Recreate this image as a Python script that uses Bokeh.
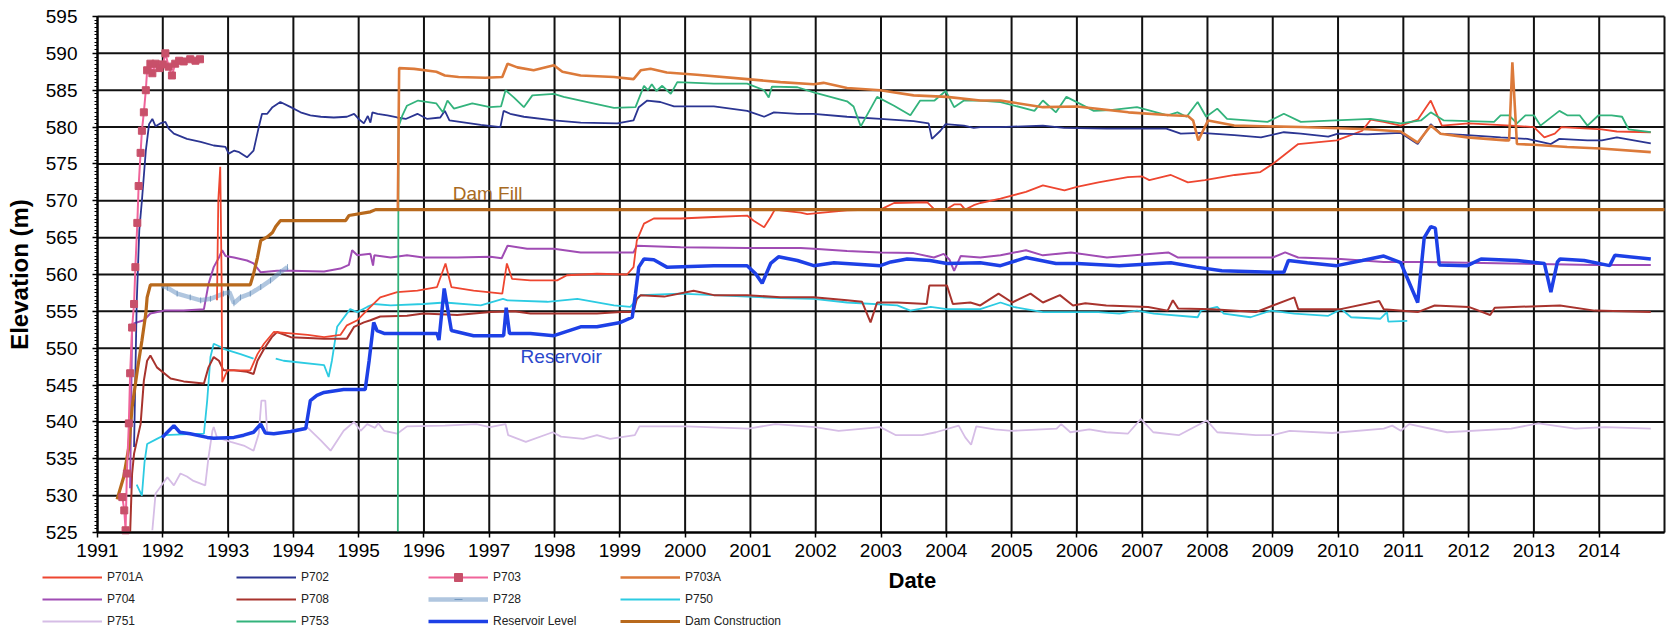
import numpy as np
from bokeh.plotting import figure
from bokeh.models import Range1d, FixedTicker, Legend, LegendItem, Label, LinearAxis
from bokeh.embed import file_html
from bokeh.resources import INLINE

# ---------------- data (decimal year, elevation m) ----------------
YEAR_TICKS = list(range(1991, 2015))
ELEV_TICKS = list(range(525, 600, 5))
X0, X1 = 1991, 2015
Y0, Y1 = 525, 595

DAM_YR = [1991.30, 1991.40, 1991.48, 1991.53, 1991.61, 1991.68, 1991.74, 1991.76, 1991.81,
          1993.34, 1993.39, 1993.45, 1993.50, 1993.60, 1993.68, 1993.73, 1993.80, 1994.80,
          1994.85, 1995.18, 1995.26, 2015.0]
DAM_EL = [529.5, 532.5, 536.6, 542.0, 547.0, 551.0, 554.7, 556.9, 558.6,
          558.6, 560.1, 562.3, 564.6, 565.1, 565.7, 566.5, 567.3, 567.3,
          568.0, 568.5, 568.8, 568.8]

P703_YR = [1991.38, 1991.41, 1991.43, 1991.45, 1991.48, 1991.50, 1991.53, 1991.56, 1991.58,
           1991.61, 1991.63, 1991.66, 1991.68, 1991.71, 1991.74, 1991.76, 1991.81, 1991.84,
           1991.89, 1991.95, 1992.00, 1992.04, 1992.09, 1992.14, 1992.19, 1992.25, 1992.32,
           1992.42, 1992.50, 1992.57]
P703_EL = [529.8, 528.0, 525.3, 533.0, 539.8, 546.6, 552.8, 556.0, 561.0,
           567.0, 572.0, 576.5, 579.5, 582.0, 585.0, 587.7, 588.6, 587.3,
           588.6, 588.0, 588.5, 590.0, 588.2, 587.0, 588.6, 589.0, 588.9,
           589.2, 589.0, 589.2]

P702_YR = [1991.56, 1991.60, 1991.64, 1991.68, 1991.74, 1991.79, 1991.84, 1991.89, 1991.96,
           1992.04, 1992.09, 1992.17, 1992.37, 1992.58, 1992.78, 1992.96, 1993.01, 1993.09,
           1993.17, 1993.29, 1993.39, 1993.47, 1993.52, 1993.60, 1993.68, 1993.80, 1993.96,
           1994.11, 1994.26, 1994.42, 1994.62, 1994.82, 1994.93, 1995.00, 1995.08, 1995.14,
           1995.18, 1995.21, 1995.29, 1995.44, 1995.59, 1995.72, 1995.90, 1996.05, 1996.25,
           1996.32, 1996.39, 1996.55, 1996.87, 1997.17, 1997.22, 1997.32, 1997.53, 1997.99,
           1998.40, 1998.96, 1999.21, 1999.29, 1999.42, 1999.62, 1999.83, 2000.44, 2000.95,
           2001.21, 2001.36, 2001.72, 2001.97, 2002.48, 2002.99, 2003.50, 2003.73, 2003.78,
           2003.91, 2003.99, 2004.27, 2004.42, 2004.52, 2004.83, 2005.48, 2005.80, 2006.45,
           2007.37, 2007.59, 2007.90, 2008.41, 2008.82, 2009.17, 2009.43, 2009.85, 2010.00,
           2010.45, 2010.96, 2011.22, 2011.42, 2011.57, 2011.98, 2012.49, 2012.90, 2013.26,
           2013.39, 2013.82, 2014.04, 2014.27, 2014.79]
P702_EL = [536.6, 556.0, 566.0, 570.0, 576.8, 580.4, 581.1, 580.1, 580.5,
           580.7, 579.8, 579.1, 578.4, 578.0, 577.5, 577.3, 576.4, 576.8,
           576.6, 575.9, 576.8, 580.0, 581.8, 581.8, 582.7, 583.4, 582.7,
           582.0, 581.6, 581.4, 581.3, 581.4, 581.8, 581.1, 580.5, 581.5,
           580.6, 582.0, 581.8, 581.6, 581.3, 581.1, 581.8, 581.1, 581.3,
           582.2, 580.9, 580.7, 580.3, 580.0, 582.2, 581.8, 581.4, 580.9,
           580.6, 580.5, 580.9, 582.7, 583.6, 583.4, 582.8, 582.8, 582.2,
           581.4, 582.0, 581.8, 581.8, 581.4, 581.1, 580.8, 580.5, 578.4,
           579.5, 580.4, 580.2, 579.9, 580.0, 580.0, 580.2, 579.9, 579.8,
           579.8, 579.1, 579.2, 578.9, 578.6, 579.3, 579.1, 578.7, 579.1,
           579.0, 579.2, 577.7, 580.4, 579.1, 578.9, 578.6, 578.4, 577.7,
           578.4, 578.2, 578.2, 578.6, 577.8]

P703A_YR = [1995.60, 1995.62, 1995.85, 1996.19, 1996.32, 1996.53, 1996.94, 1997.20, 1997.28,
            1997.43, 1997.68, 1997.99, 1998.12, 1998.40, 1998.91, 1999.21, 1999.32, 1999.47,
            1999.72, 2000.18, 2000.95, 2001.46, 2001.97, 2002.12, 2002.48, 2002.99, 2003.50,
            2004.01, 2004.52, 2004.83, 2005.48, 2006.00, 2006.79, 2007.44, 2007.70, 2007.78,
            2007.86, 2008.01, 2008.41, 2009.43, 2010.45, 2010.96, 2011.22, 2011.42, 2011.57,
            2011.98, 2012.57, 2012.62, 2012.67, 2012.74, 2013.00, 2013.51, 2014.02, 2014.79]
P703A_EL = [569.0, 588.0, 587.9, 587.5, 587.0, 586.8, 586.7, 586.8, 588.6,
            588.1, 587.7, 588.4, 587.5, 587.0, 586.8, 586.5, 587.7, 587.9,
            587.4, 587.1, 586.5, 586.1, 585.8, 586.0, 585.3, 585.0, 584.3,
            584.1, 583.6, 583.6, 582.7, 582.8, 582.0, 581.6, 581.5, 580.9,
            578.2, 580.9, 580.2, 580.0, 579.7, 579.4, 577.9, 580.2, 579.1,
            578.6, 578.2, 578.2, 588.8, 577.7, 577.6, 577.3, 577.1, 576.6]

P701A_YR = [1992.83, 1992.85, 1992.88, 1992.90, 1992.91, 1992.99, 1993.14, 1993.34, 1993.45,
            1993.55, 1993.70, 1993.96, 1994.22, 1994.47, 1994.72, 1994.82, 1994.98, 1995.18,
            1995.33, 1995.59, 1995.90, 1996.20, 1996.33, 1996.42, 1996.76, 1997.20, 1997.27,
            1997.35, 1997.63, 1998.04, 1998.19, 1998.65, 1999.11, 1999.21, 1999.26, 1999.37,
            1999.52, 1999.93, 2000.44, 2000.95, 2001.05, 2001.21, 2001.31, 2001.38, 2001.46,
            2001.77, 2001.87, 2002.23, 2002.48, 2002.99, 2003.20, 2003.71, 2003.81, 2004.01,
            2004.12, 2004.22, 2004.29, 2004.42, 2004.52, 2004.83, 2005.22, 2005.48, 2005.81,
            2006.00, 2006.33, 2006.78, 2007.00, 2007.11, 2007.44, 2007.70, 2007.96, 2008.42,
            2008.81, 2009.00, 2009.39, 2009.98, 2010.37, 2010.50, 2010.70, 2010.96, 2011.22,
            2011.42, 2011.59, 2012.00, 2012.65, 2013.00, 2013.16, 2013.32, 2013.42, 2014.04,
            2014.27, 2014.79]
P701A_EL = [556.5, 570.0, 574.6, 560.0, 545.4, 547.0, 547.0, 547.0, 549.2,
            550.6, 552.2, 552.0, 551.8, 551.5, 551.8, 553.1, 553.8, 555.6,
            556.9, 557.6, 557.8, 558.3, 561.5, 558.3, 557.8, 557.4, 561.5,
            559.4, 559.2, 559.2, 559.9, 560.1, 560.0, 561.0, 564.6, 566.9,
            567.6, 567.6, 567.8, 568.0, 567.3, 566.4, 567.8, 568.9, 568.7,
            568.4, 568.2, 568.5, 568.7, 568.8, 569.7, 569.8, 568.9, 568.9,
            569.5, 569.5, 568.8, 569.4, 569.7, 570.3, 571.2, 572.1, 571.4,
            571.9, 572.5, 573.2, 573.3, 572.8, 573.5, 572.5, 572.8, 573.5,
            573.9, 575.0, 577.7, 578.2, 579.5, 581.0, 580.7, 580.2, 581.0,
            583.6, 580.2, 580.5, 580.2, 580.0, 578.6, 579.1, 580.0, 579.7,
            579.4, 579.3]

P704_YR = [1991.50, 1991.53, 1991.71, 1991.81, 1992.02, 1992.32, 1992.63, 1992.70, 1992.78,
           1992.86, 1992.91, 1992.96, 1993.09, 1993.29, 1993.39, 1993.50, 1993.75, 1993.96,
           1994.47, 1994.72, 1994.85, 1994.90, 1994.98, 1995.18, 1995.22, 1995.24, 1995.49,
           1995.74, 1995.99, 1996.51, 1997.02, 1997.19, 1997.28, 1997.58, 1997.99, 1998.40,
           1998.91, 1999.21, 1999.26, 1999.93, 2000.95, 2001.77, 2001.97, 2002.48, 2002.99,
           2003.50, 2003.81, 2003.96, 2004.05, 2004.12, 2004.22, 2004.52, 2004.83, 2005.22,
           2005.48, 2005.91, 2006.46, 2007.40, 2007.55, 2009.00, 2009.19, 2009.39, 2010.04,
           2010.70, 2011.35, 2012.65, 2013.93, 2014.79]
P704_EL = [531.0, 553.3, 553.8, 554.7, 555.1, 555.1, 555.3, 558.7, 561.0,
           562.3, 563.3, 562.5, 562.3, 561.9, 561.5, 560.3, 560.5, 560.5,
           560.4, 560.8, 561.3, 563.3, 562.6, 562.8, 561.2, 562.6, 562.3,
           562.6, 562.3, 562.3, 562.4, 562.2, 563.9, 563.5, 563.5, 563.0,
           563.0, 563.0, 563.9, 563.7, 563.6, 563.6, 563.5, 563.2, 563.0,
           562.9, 562.3, 562.8, 562.0, 560.5, 562.5, 562.3, 562.6, 563.3,
           562.6, 563.0, 562.3, 563.0, 562.3, 562.3, 563.0, 562.3, 562.1,
           561.7, 561.7, 561.5, 561.3, 561.3]

RES_YR = [1991.99, 1992.07, 1992.17, 1992.26, 1992.42, 1992.68, 1992.78, 1993.09, 1993.24,
          1993.39, 1993.50, 1993.57, 1993.70, 1993.96, 1994.19, 1994.26, 1994.36, 1994.47,
          1994.77, 1995.10, 1995.16, 1995.23, 1995.28, 1995.39, 1995.99, 1996.20, 1996.23,
          1996.31, 1996.42, 1996.76, 1997.22, 1997.26, 1997.31, 1997.63, 1997.99, 1998.40,
          1998.65, 1999.01, 1999.19, 1999.24, 1999.29, 1999.37, 1999.52, 1999.72, 2000.44,
          2000.95, 2001.08, 2001.18, 2001.31, 2001.43, 2001.72, 2001.97, 2002.28, 2002.99,
          2003.15, 2003.40, 2003.75, 2004.01, 2004.52, 2004.83, 2005.22, 2005.68, 2006.00,
          2006.65, 2007.44, 2007.83, 2008.22, 2009.00, 2009.17, 2009.24, 2009.53, 2009.98,
          2010.37, 2010.70, 2010.96, 2011.22, 2011.32, 2011.42, 2011.49, 2011.55, 2011.98,
          2012.19, 2012.74, 2013.16, 2013.26, 2013.36, 2013.40, 2013.77, 2014.16, 2014.24,
          2014.79]
RES_EL = [537.9, 538.6, 539.5, 538.6, 538.4, 537.9, 537.8, 537.9, 538.2,
          538.6, 539.7, 538.5, 538.4, 538.7, 539.1, 542.9, 543.6, 544.0,
          544.4, 544.4, 548.3, 553.5, 552.4, 552.0, 552.0, 552.0, 551.1,
          558.1, 552.4, 551.7, 551.7, 555.5, 552.0, 552.0, 551.7, 552.9,
          552.9, 553.5, 554.2, 557.4, 561.0, 562.1, 562.0, 561.0, 561.2,
          561.2, 560.1, 558.8, 561.5, 562.4, 561.9, 561.2, 561.6, 561.2,
          561.7, 562.1, 561.9, 561.5, 561.6, 561.2, 562.3, 561.5, 561.5,
          561.2, 561.6, 561.0, 560.5, 560.3, 560.3, 561.9, 561.6, 561.2,
          561.9, 562.5, 561.6, 556.2, 565.0, 566.5, 566.3, 561.3, 561.2,
          562.1, 561.9, 561.5, 557.6, 561.7, 562.1, 561.9, 561.2, 562.6,
          562.1]

P708_YR = [1991.50, 1991.53, 1991.56, 1991.66, 1991.71, 1991.76, 1991.81, 1991.91, 1992.12,
           1992.32, 1992.63, 1992.70, 1992.78, 1992.86, 1992.93, 1993.09, 1993.29, 1993.39,
           1993.45, 1993.55, 1993.67, 1993.75, 1993.96, 1994.22, 1994.47, 1994.82, 1994.93,
           1995.08, 1995.18, 1995.33, 1995.74, 1995.99, 1996.51, 1997.02, 1997.38, 1997.63,
           1998.65, 1999.01, 1999.21, 1999.26, 1999.32, 1999.68, 2000.13, 2000.44, 2000.95,
           2001.46, 2001.97, 2002.48, 2002.71, 2002.84, 2002.94, 2003.25, 2003.70, 2003.74,
           2004.01, 2004.10, 2004.37, 2004.52, 2004.80, 2005.01, 2005.29, 2005.48, 2005.74,
           2005.94, 2006.13, 2006.45, 2007.09, 2007.39, 2007.47, 2007.55, 2008.08, 2008.74,
           2009.33, 2009.39, 2010.04, 2010.63, 2010.70, 2011.22, 2011.48, 2012.00, 2012.33,
           2012.40, 2013.40, 2013.93, 2014.79]
P708_EL = [525.0, 533.0, 535.7, 539.7, 545.6, 548.3, 549.0, 547.4, 545.9,
           545.5, 545.2, 547.4, 548.8, 548.3, 547.0, 547.0, 546.8, 546.5,
           548.3, 549.9, 551.5, 552.2, 551.5, 551.4, 551.3, 551.3, 552.9,
           553.5, 553.8, 554.3, 554.4, 554.7, 554.5, 554.9, 555.0, 554.7,
           554.7, 554.9, 554.9, 556.7, 557.2, 557.0, 557.8, 557.2, 557.2,
           556.9, 556.9, 556.5, 556.3, 553.5, 556.2, 556.2, 556.0, 558.5,
           558.5, 556.0, 556.2, 555.8, 557.4, 556.2, 557.4, 556.2, 557.2,
           555.8, 556.1, 555.8, 555.6, 555.1, 556.5, 555.4, 555.3, 554.9,
           556.9, 555.3, 555.3, 556.4, 555.3, 554.9, 555.8, 555.6, 554.5,
           555.5, 555.8, 555.1, 554.9]

P750_YR = [1991.60, 1991.68, 1991.72, 1991.76, 1991.91, 1992.02, 1992.30, 1992.63, 1992.68,
           1992.73, 1992.78, 1992.88, 1992.93, 1993.19, 1993.39, np.nan, 1993.73, 1993.85,
           1994.47, 1994.54, 1994.59, 1994.67, 1994.87, 1994.98, 1995.13, 1995.23, 1995.49,
           1995.99, 1996.32, 1996.87, 1997.21, 1997.28, 1997.89, 1998.35, 1998.91, 1999.16,
           1999.32, 1999.93, 2000.44, 2001.46, 2001.97, 2002.48, 2003.25, 2003.45, 2003.76,
           2004.01, 2004.52, 2004.83, 2005.03, 2005.48, 2005.80, 2006.33, 2006.65, 2006.92,
           2007.18, 2007.85, 2007.90, 2008.15, 2008.25, 2008.66, 2008.97, 2009.33, 2009.85,
           2010.05, 2010.20, 2010.65, 2010.75, 2010.77, 2011.06]
P750_EL = [531.5, 530.0, 534.5, 537.0, 537.7, 538.2, 538.3, 538.4, 542.9,
           548.8, 550.6, 550.2, 549.9, 549.2, 548.6, np.nan, 548.6, 548.3,
           547.7, 546.1, 548.3, 552.9, 555.3, 554.9, 555.6, 556.0, 555.8,
           556.0, 556.2, 555.8, 556.7, 556.5, 556.3, 556.7, 555.8, 555.6,
           557.2, 557.4, 557.2, 556.8, 556.7, 556.2, 555.8, 555.1, 555.6,
           555.3, 555.3, 556.2, 555.6, 554.9, 554.9, 554.9, 554.7, 555.1,
           554.7, 554.2, 555.1, 555.6, 554.7, 554.2, 555.1, 554.7, 554.4,
           555.3, 554.2, 554.0, 554.9, 553.6, 553.7]

P751_YR = [1991.84, 1991.89, 1991.99, 1992.07, 1992.17, 1992.27, 1992.37, 1992.47, 1992.65,
           1992.70, 1992.76, 1992.78, 1992.83, 1993.04, 1993.24, 1993.39, 1993.47, 1993.51,
           1993.57, 1993.60, 1993.75, 1993.96, 1994.21, 1994.42, 1994.57, 1994.77, 1994.93,
           1995.03, 1995.13, 1995.25, 1995.30, 1995.39, 1995.59, 1995.74, 1996.32, 1996.80,
           1997.01, 1997.25, 1997.29, 1997.56, 1997.97, 1998.10, 1998.44, 1998.65, 1998.85,
           1999.23, 1999.30, 2000.01, 2000.97, 2001.38, 2001.99, 2002.35, 2002.99, 2003.23,
           2003.63, 2003.84, 2004.19, 2004.29, 2004.38, 2004.46, 2004.74, 2005.01, 2005.69,
           2005.76, 2005.90, 2006.19, 2006.45, 2006.78, 2006.98, 2007.17, 2007.56, 2007.99,
           2008.15, 2008.74, 2009.00, 2009.26, 2009.91, 2010.70, 2010.83, 2010.96, 2011.09,
           2011.67, 2012.65, 2013.07, 2013.63, 2014.09, 2014.79]
P751_EL = [525.3, 530.3, 531.5, 532.5, 531.4, 533.0, 532.6, 532.0, 531.4,
           535.2, 538.8, 539.3, 537.9, 537.3, 536.8, 536.1, 538.4, 542.9,
           542.9, 538.4, 538.4, 538.8, 539.3, 537.5, 536.1, 538.8, 540.0,
           538.8, 539.7, 539.2, 539.8, 538.8, 538.4, 539.4, 539.5, 539.7,
           539.3, 539.7, 538.2, 537.3, 538.6, 538.0, 537.7, 538.2, 537.7,
           538.2, 539.4, 539.4, 539.1, 539.7, 539.3, 538.8, 539.3, 538.2,
           538.2, 538.6, 539.5, 537.9, 536.9, 539.4, 539.0, 538.8, 539.1,
           539.7, 538.6, 539.0, 538.6, 538.4, 540.4, 538.6, 538.2, 540.2,
           538.6, 538.2, 538.2, 538.8, 538.5, 539.1, 539.5, 538.8, 539.7,
           538.6, 539.1, 539.8, 539.1, 539.3, 539.1]

P753_YR = [1995.60, 1995.61, 1995.67, 1995.74, 1995.91, 1996.19, 1996.29, 1996.36, 1996.46,
           1996.74, 1997.01, 1997.18, 1997.25, 1997.38, 1997.53, 1997.66, 1997.99, 1998.14,
           1998.40, 1998.91, 1999.24, 1999.37, 1999.43, 1999.49, 1999.56, 1999.65, 1999.78,
           1999.88, 2000.44, 2000.95, 2001.21, 2001.28, 2001.33, 2001.72, 2001.97, 2002.48,
           2002.58, 2002.69, 2002.94, 2003.20, 2003.45, 2003.60, 2003.82, 2003.99, 2004.12,
           2004.27, 2004.52, 2004.83, 2005.35, 2005.48, 2005.68, 2005.84, 2006.26, 2006.51,
           2006.92, 2007.39, 2007.54, 2007.68, 2007.85, 2007.98, 2008.15, 2008.30, 2008.92,
           2009.17, 2009.43, 2010.50, 2010.96, 2011.27, 2011.42, 2011.62, 2012.39, 2012.49,
           2012.62, 2012.74, 2012.87, 2013.00, 2013.10, 2013.39, 2013.51, 2013.70, 2013.82,
           2013.99, 2014.19, 2014.35, 2014.45, 2014.79]
P753_EL = [525.0, 580.0, 581.6, 582.9, 583.6, 583.2, 582.0, 583.6, 582.5,
           583.2, 582.7, 582.8, 585.0, 584.0, 582.7, 584.3, 584.5, 584.1,
           583.6, 582.6, 582.7, 585.6, 585.0, 585.8, 584.9, 585.6, 584.5,
           586.1, 585.9, 585.9, 585.0, 584.0, 585.5, 585.4, 584.7, 583.5,
           582.8, 580.1, 584.1, 582.9, 581.6, 583.6, 583.6, 584.9, 582.7,
           583.6, 583.6, 583.4, 582.2, 583.6, 582.0, 584.1, 582.2, 582.3,
           582.7, 581.6, 582.0, 581.4, 583.4, 581.4, 582.5, 581.1, 580.7,
           581.8, 580.7, 581.1, 580.5, 580.9, 582.0, 580.9, 580.7, 581.6,
           581.6, 580.5, 581.6, 581.6, 580.2, 582.2, 581.6, 581.6, 580.2,
           581.6, 581.6, 581.4, 579.7, 579.3]

P728_YR = [1991.99, 1992.07, 1992.22, 1992.42, 1992.58, 1992.73, 1992.93, 1993.02, 1993.09,
           1993.19, 1993.34, 1993.50, 1993.65, 1993.80, 1993.91]
P728_EL = [558.5, 558.2, 557.4, 556.9, 556.5, 556.7, 557.4, 557.6, 556.1,
           556.9, 557.4, 558.3, 559.2, 560.3, 561.0]

FONT = "Liberation Sans"

STYLE = {
    "P701A": ("#ee4630", 1.8, 1.0),
    "P702": ("#2b3592", 1.8, 1.0),
    "P703": ("#f0649a", 2.0, 1.0),
    "P703A": ("#dc7a3a", 2.6, 1.0),
    "P704": ("#a04cb4", 2.0, 1.0),
    "P708": ("#a8332d", 2.0, 1.0),
    "P728": ("#7098c4", 4.5, 0.55),
    "P750": ("#2ccbe2", 1.8, 1.0),
    "P751": ("#d6bde6", 1.8, 1.0),
    "P753": ("#33b37c", 1.8, 1.0),
    "Reservoir Level": ("#1d40e6", 3.5, 1.0),
    "Dam Construction": ("#b8691c", 3.2, 1.0),
}
P703_MARK = "#c8506a"
P728_MARK = "#5a84b0"

# ---------------- canvas geometry ----------------
# The frame fills the whole canvas so the key and the axis title below the
# plotting area can be drawn without being clipped; the plotting area itself
# (1991-2015, 525-595 m) sits at pixels 97..1664 x 16..532.
W, H = 1667, 631
AREA_L, AREA_R, AREA_T, AREA_B = 97, 1664, 16, 532
px_per_yr = (AREA_R - AREA_L) / (X1 - X0)
px_per_m = (AREA_B - AREA_T) / (Y1 - Y0)
x_range = Range1d(X0 - AREA_L / px_per_yr, X1 + (W - AREA_R) / px_per_yr)
y_range = Range1d(Y0 - (H - AREA_B) / px_per_m, Y1 + AREA_T / px_per_m)

p = figure(width=W, height=H, x_range=x_range, y_range=y_range,
           x_axis_type=None, y_axis_type=None,
           output_backend="svg", toolbar_location=None,
           min_border_left=0, min_border_right=0, min_border_top=0, min_border_bottom=0)
p.outline_line_color = None
p.background_fill_color = "white"
p.border_fill_color = "white"

# grid (every year and every 5 m, closing lines at 2015 and 595 m)
grid_years = YEAR_TICKS + [X1]
p.segment(x0=grid_years, y0=[Y0] * len(grid_years), x1=grid_years, y1=[Y1] * len(grid_years),
          line_color="#111111", line_width=2)
p.segment(x0=[X0] * len(ELEV_TICKS), y0=ELEV_TICKS, x1=[X1] * len(ELEV_TICKS), y1=ELEV_TICKS,
          line_color="#111111", line_width=2)

# axes pinned to the plotting area
xaxis = LinearAxis(fixed_location=Y0, bounds=(X0, X1), ticker=FixedTicker(ticks=YEAR_TICKS))
yaxis = LinearAxis(fixed_location=X0, bounds=(Y0, Y1),
                   ticker=FixedTicker(ticks=ELEV_TICKS,
                                      minor_ticks=[Y0 + 0.5 * i for i in range(141)]),
                   axis_label="Elevation (m)")
p.add_layout(xaxis, "below")
p.add_layout(yaxis, "left")
for ax in (xaxis, yaxis):
    ax.axis_line_color = "black"
    ax.axis_line_width = 2
    ax.major_tick_line_color = "black"
    ax.major_tick_line_width = 1.5
    ax.major_tick_out = 5
    ax.major_tick_in = 0
    ax.major_label_text_color = "black"
xaxis.minor_tick_line_color = None
yaxis.minor_tick_line_color = "black"
yaxis.minor_tick_out = 3
yaxis.minor_tick_in = 0
xaxis.major_label_text_font = FONT
xaxis.major_label_text_font_size = "19px"
xaxis.major_label_standoff = 6
yaxis.major_label_text_font = FONT
yaxis.major_label_text_font_size = "19px"
yaxis.major_label_standoff = 15
yaxis.axis_label_text_font = FONT
yaxis.axis_label_text_font_size = "24px"
yaxis.axis_label_text_font_style = "bold"
yaxis.axis_label_text_color = "black"
yaxis.axis_label_standoff = 10

# ---------------- series ----------------
def draw_line(name, xs, ys):
    c, w, a = STYLE[name]
    return p.line(np.array(xs, dtype=float), np.array(ys, dtype=float),
                  line_color=c, line_width=w, line_alpha=a)


r = {}
r["P751"] = draw_line("P751", P751_YR, P751_EL)
r["P750"] = draw_line("P750", P750_YR, P750_EL)
r["P708"] = draw_line("P708", P708_YR, P708_EL)
r["P704"] = draw_line("P704", P704_YR, P704_EL)
r["P728"] = draw_line("P728", P728_YR, P728_EL)
r728_m = p.scatter(np.array(P728_YR), np.array(P728_EL), marker="dash", angle=np.pi / 2,
                   size=6, line_color=P728_MARK, line_alpha=0.7)
r["P701A"] = draw_line("P701A", P701A_YR, P701A_EL)
r["P702"] = draw_line("P702", P702_YR, P702_EL)
r["P753"] = draw_line("P753", P753_YR, P753_EL)
r["P703A"] = draw_line("P703A", P703A_YR, P703A_EL)
r["Reservoir Level"] = draw_line("Reservoir Level", RES_YR, RES_EL)
r["Dam Construction"] = draw_line("Dam Construction", DAM_YR, DAM_EL)
r["P703"] = draw_line("P703", P703_YR, P703_EL)
r703_m = p.scatter(np.array(P703_YR), np.array(P703_EL), marker="square", size=7,
                   fill_color=P703_MARK, line_color=P703_MARK)

p.add_layout(Label(x=1996.44, y=571.0, text="Dam Fill", text_font=FONT,
                   text_font_size="19px", text_color="#a86a22",
                   text_baseline="alphabetic"))
p.add_layout(Label(x=1997.48, y=548.9, text="Reservoir", text_font=FONT,
                   text_font_size="19px", text_color="#2a48cc",
                   text_baseline="alphabetic"))
p.add_layout(Label(x=888, y=51, x_units="screen", y_units="screen", text="Date",
                   text_font=FONT, text_font_size="22px", text_font_style="bold",
                   text_color="black", text_baseline="middle"))

# ---------------- key: four columns below the plotting area ----------------
LEGEND_COLUMNS = [
    ["P701A", "P704", "P751"],
    ["P702", "P708", "P753"],
    ["P703", "P728", "Reservoir Level"],
    ["P703A", "P750", "Dam Construction"],
]
COLUMN_X = [42, 236, 428, 620]
extra = {"P703": [r703_m], "P728": [r728_m]}
for names, vx in zip(LEGEND_COLUMNS, COLUMN_X):
    items = [LegendItem(label=nm, renderers=[r[nm]] + extra.get(nm, [])) for nm in names]
    lg = Legend(items=items, location=(vx, 0), orientation="vertical",
                glyph_width=60, glyph_height=20, label_height=20, label_standoff=5,
                spacing=2, padding=0, margin=0,
                border_line_color=None, background_fill_alpha=0,
                label_text_font=FONT, label_text_font_size="12px",
                label_text_color="#222222")
    p.add_layout(lg)

open("out.html", "w").write(file_html(p, INLINE))
